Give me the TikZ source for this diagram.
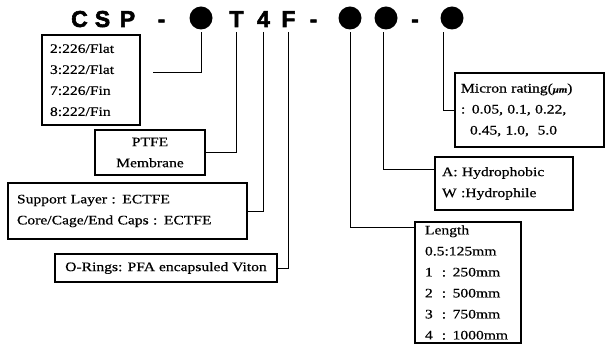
\documentclass[tikz,border=0pt]{standalone}
\usepackage{fontspec}
\setmainfont{Liberation Serif}[FakeStretch=1.2,FakeBold=0.6]
\newfontfamily\codefont{Liberation Sans}[FakeBold=2.5]
\usetikzlibrary{positioning,calc}

\newcommand\lbl{\fontsize{13}{21}\selectfont}
\newcommand\codesize{\codefont\bfseries\fontsize{23}{23}\selectfont}

\begin{document}
\begin{tikzpicture}[
  x=1pt, y=-1pt,
  code char/.style={font=\codesize, inner sep=0pt, outer sep=5pt, anchor=base},
  code dot/.style={circle, fill, minimum size=23pt, inner sep=0pt, outer sep=3pt},
  spec box/.style={draw, line width=1.1pt, inner ysep=0pt, font=\lbl},
  lead/.style={draw, line width=0.8pt}
]
  \useasboundingbox (0,0) rectangle (611,344);

  \node[code char] (cC) at (79.5,27) {C};
  \node[code char] (cS) at (102.5,27) {S};
  \node[code char] (cP) at (127.5,27) {P};
  \node[code char] (dash1) at (161.5,27) {-};
  \node[code dot] (dShape) at (201,18) {};
  \node[code char] (cT) at (236.5,27) {T};
  \node[code char] (c4) at (263.5,27) {4};
  \node[code char] (cF) at (288.5,27) {F};
  \node[code char] (dash2) at (313.5,27) {-};
  \node[code dot] (dLength) at (350,18) {};
  \node[code dot] (dHydro) at (386,18) {};
  \node[code char] (dash3) at (415,27) {-};
  \node[code dot] (dMicron) at (452,18) {};

  \node[spec box, text width=82pt, inner xsep=8pt, minimum height=90pt, align=left] (shape) at (91,80)
    {2:226/Flat\\3:222/Flat\\7:226/Fin\\8:222/Fin};
  \node[spec box, minimum width=110pt, minimum height=45pt, align=center] (membrane) at (150,152.5)
    {PTFE\\Membrane};
  \node[spec box, text width=221pt, inner xsep=9pt, minimum height=56pt, align=left] (support) at (127.5,211)
    {Support Layer : ECTFE\\Core/Cage/End Caps : ECTFE};
  \node[spec box, minimum width=222pt, minimum height=28pt] (oring) at (166,268)
    {O-Rings: PFA encapsuled Viton};
  \node[spec box, text width=137pt, inner xsep=6pt, minimum height=74pt, align=left] (micron) at (529.5,110)
    {Micron rating({\fontsize{9}{9}\selectfont\bfseries\itshape μm})\\: 0.05,~0.1,~0.22,\\\hspace{9pt}0.45,~1.0,~~5.0};
  \node[spec box, text width=124pt, inner xsep=7pt, minimum height=53pt, align=left] (hydro) at (504,183.5)
    {A:~Hydrophobic\\W :Hydrophile};
  \node[spec box, text width=86pt, inner xsep=10pt, minimum height=121pt, align=left] (length) at (468,282.5)
    {Length\\0.5:125mm\\1\hspace{9pt}: 250mm\\2\hspace{9pt}: 500mm\\3\hspace{9pt}: 750mm\\4\hspace{9pt}: 1000mm};

  \coordinate (shapeEnd) at (153,72);

  \draw[lead] (dShape.south) |- (shapeEnd);
  \draw[lead] (cT.south) |- (membrane.east);
  \draw[lead] (c4.south) |- (support.east);
  \draw[lead] (cF.south) |- (oring.east);
  \draw[lead] (dLength.south) |- ([yshift=-6pt]length.north west);
  \draw[lead] ([xshift=-3pt]dHydro.south) |- ([yshift=-13pt]hydro.north west);
  \draw[lead] ([xshift=-9pt]dMicron.south) |- (micron.west);
\end{tikzpicture}
\end{document}
